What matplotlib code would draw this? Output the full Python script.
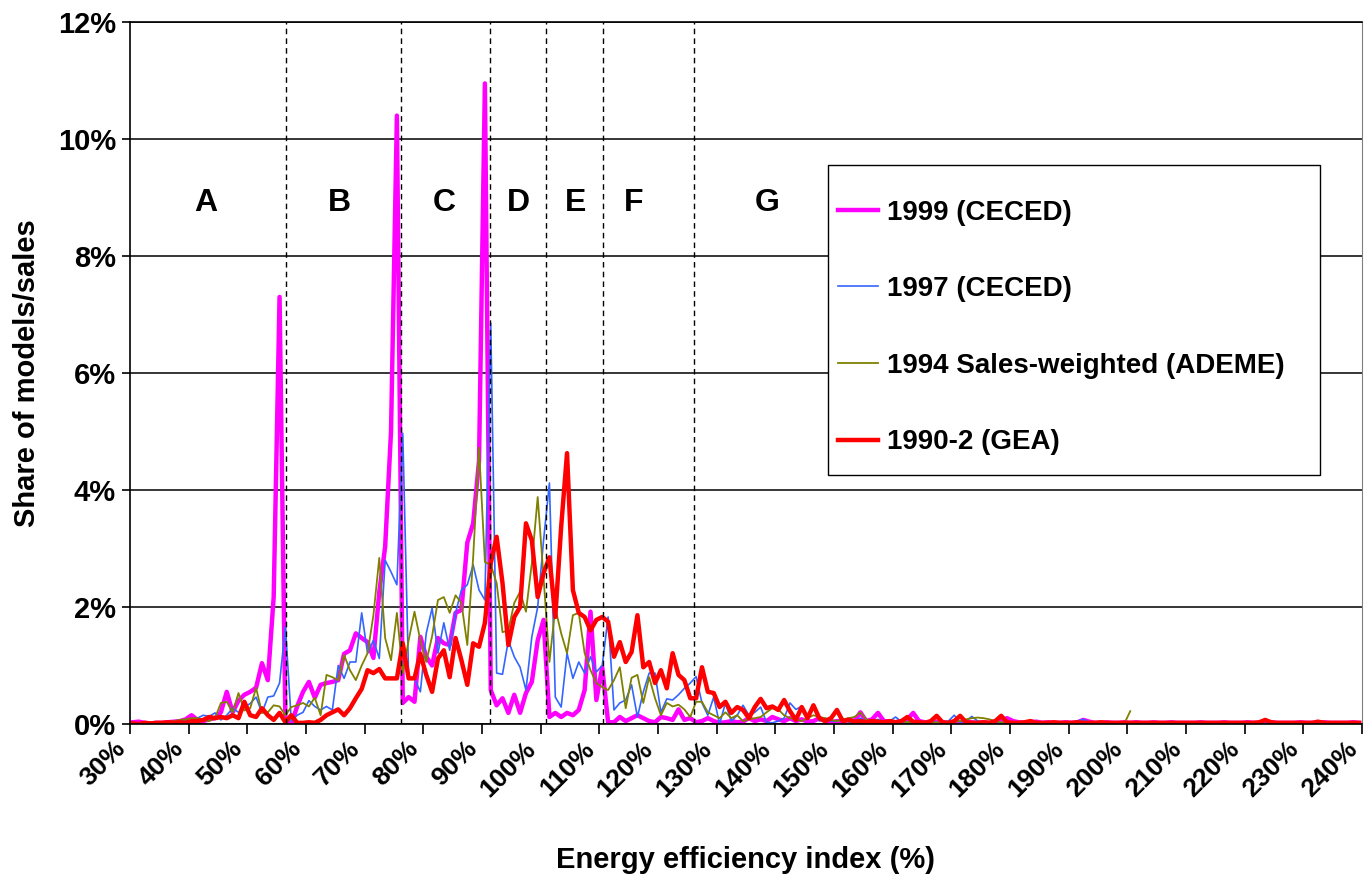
import matplotlib
matplotlib.use('Agg')
import matplotlib.pyplot as plt
import numpy as np
from matplotlib.patches import Rectangle

plt.rcParams['font.family'] = ['Liberation Sans', 'DejaVu Sans']
plt.rcParams['font.weight'] = 'bold'

# energy efficiency index categories (%), 30..239
eei = np.arange(30, 240)

s1999 = [
    0.03, 0.04, 0.02, 0.01, 0.02, 0.02, 0.03, 0.04, 0.05, 0.08,
    0.15, 0.07, 0.05, 0.08, 0.10, 0.20, 0.55, 0.20, 0.40, 0.50,
    0.55, 0.62, 1.04, 0.75, 2.17, 7.30, 0.05, 0.00, 0.30, 0.55,
    0.72, 0.45, 0.67, 0.70, 0.72, 0.75, 1.20, 1.26, 1.55, 1.47,
    1.40, 1.13, 2.26, 3.03, 5.00, 10.40, 0.36, 0.46, 0.38, 1.49,
    1.15, 1.00, 1.47, 1.38, 1.35, 1.90, 1.95, 3.10, 3.43, 4.50,
    10.95, 0.58, 0.32, 0.44, 0.19, 0.50, 0.19, 0.53, 0.72, 1.43,
    1.78, 0.12, 0.19, 0.12, 0.19, 0.15, 0.24, 0.58, 1.92, 0.41,
    0.97, 0.03, 0.03, 0.12, 0.05, 0.10, 0.15, 0.10, 0.05, 0.03,
    0.12, 0.10, 0.07, 0.25, 0.07, 0.10, 0.03, 0.05, 0.10, 0.05,
    0.02, 0.03, 0.05, 0.03, 0.04, 0.10, 0.05, 0.08, 0.05, 0.12,
    0.08, 0.05, 0.10, 0.05, 0.08, 0.04, 0.05, 0.10, 0.05, 0.03,
    0.05, 0.04, 0.08, 0.05, 0.20, 0.05, 0.08, 0.19, 0.05, 0.04,
    0.03, 0.05, 0.08, 0.19, 0.05, 0.03, 0.02, 0.04, 0.03, 0.02,
    0.03, 0.02, 0.04, 0.03, 0.02, 0.03, 0.02, 0.04, 0.06, 0.10,
    0.05, 0.03, 0.02, 0.03, 0.04, 0.02, 0.03, 0.02, 0.02, 0.03,
    0.02, 0.03, 0.07, 0.04, 0.02, 0.02, 0.03, 0.02, 0.02, 0.03,
    0.02, 0.03, 0.02, 0.02, 0.03, 0.02, 0.02, 0.03, 0.02, 0.02,
    0.02, 0.02, 0.03, 0.02, 0.02, 0.02, 0.03, 0.02, 0.02, 0.02,
    0.03, 0.02, 0.02, 0.02, 0.03, 0.02, 0.02, 0.02, 0.02, 0.03,
    0.02, 0.02, 0.02, 0.03, 0.02, 0.02, 0.02, 0.02, 0.03, 0.02,
]

s1997 = [
    0.02, 0.01, 0.00, 0.02, 0.02, 0.03, 0.02, 0.03, 0.05, 0.07,
    0.05, 0.10, 0.15, 0.13, 0.19, 0.07, 0.15, 0.27, 0.20, 0.29,
    0.35, 0.46, 0.19, 0.46, 0.48, 0.70, 1.66, 0.05, 0.15, 0.20,
    0.40, 0.30, 0.24, 0.30, 0.24, 1.00, 0.78, 1.06, 1.06, 1.90,
    1.21, 1.43, 1.12, 2.80, 2.60, 2.38, 4.97, 0.80, 0.78, 0.55,
    1.55, 1.98, 1.21, 1.73, 1.26, 1.90, 2.29, 2.38, 2.72, 2.29,
    2.12, 6.85, 0.87, 0.85, 1.43, 1.15, 0.97, 0.58, 1.49, 2.00,
    3.14, 4.12, 0.46, 0.29, 1.21, 0.78, 1.06, 0.87, 1.15, 0.89,
    1.00, 1.83, 0.24, 0.36, 0.41, 0.67, 0.12, 0.55, 0.87, 0.87,
    0.20, 0.43, 0.41, 0.50, 0.61, 0.70, 0.81, 0.36, 0.15, 0.46,
    0.00, 0.36, 0.05, 0.15, 0.32, 0.15, 0.20, 0.29, 0.03, 0.02,
    0.05, 0.10, 0.36, 0.25, 0.30, 0.10, 0.30, 0.05, 0.10, 0.05,
    0.05, 0.08, 0.03, 0.05, 0.10, 0.04, 0.05, 0.08, 0.03, 0.05,
    0.12, 0.04, 0.03, 0.05, 0.03, 0.02, 0.05, 0.03, 0.02, 0.05,
    0.15, 0.03, 0.05, 0.13, 0.05, 0.03, 0.02, 0.03, 0.02, 0.03,
    0.02, 0.03, 0.02, 0.02, 0.03, 0.02, 0.02, 0.03, 0.02, 0.02,
    0.03, 0.05, 0.08, 0.03, 0.02, 0.02, 0.02, 0.03, 0.02, 0.02,
    0.01, 0.02, 0.01, 0.02, 0.01, 0.02, 0.01, 0.01, 0.02, 0.01,
    0.04, 0.01, 0.02, 0.01, 0.01, 0.02, 0.01, 0.01, 0.01, 0.02,
    0.01, 0.01, 0.02, 0.01, 0.01, 0.01, 0.02, 0.01, 0.01, 0.01,
    0.01, 0.02, 0.01, 0.01, 0.01, 0.01, 0.02, 0.01, 0.01, 0.01,
]

# 1994 data stop at 200 %
s1994 = [
    0.00, 0.00, 0.01, 0.02, 0.03, 0.02, 0.03, 0.05, 0.07, 0.08,
    0.10, 0.10, 0.07, 0.05, 0.10, 0.36, 0.38, 0.20, 0.53, 0.23,
    0.27, 0.62, 0.19, 0.20, 0.32, 0.30, 0.15, 0.29, 0.32, 0.36,
    0.30, 0.45, 0.15, 0.84, 0.80, 0.75, 1.18, 0.92, 0.75, 1.00,
    1.21, 1.86, 2.84, 1.47, 1.09, 1.90, 0.87, 1.43, 1.92, 1.43,
    1.06, 1.50, 2.12, 2.17, 1.90, 2.20, 2.07, 1.35, 2.85, 4.72,
    2.77, 2.72, 2.41, 1.57, 1.60, 2.07, 2.26, 1.92, 2.75, 3.88,
    2.50, 1.06, 1.98, 1.55, 1.21, 1.86, 1.90, 1.21, 0.92, 0.70,
    0.63, 0.58, 0.75, 0.97, 0.27, 0.79, 0.84, 0.36, 0.80, 0.44,
    0.15, 0.36, 0.30, 0.33, 0.25, 0.12, 0.38, 0.38, 0.20, 0.15,
    0.10, 0.20, 0.10, 0.15, 0.05, 0.08, 0.10, 0.12, 0.20, 0.27,
    0.25, 0.15, 0.10, 0.08, 0.05, 0.10, 0.15, 0.12, 0.10, 0.07,
    0.05, 0.08, 0.10, 0.12, 0.20, 0.08, 0.05, 0.04, 0.05, 0.03,
    0.04, 0.05, 0.03, 0.04, 0.05, 0.03, 0.02, 0.03, 0.02, 0.03,
    0.04, 0.05, 0.08, 0.10, 0.11, 0.10, 0.08, 0.05, 0.03, 0.02,
    0.02, 0.03, 0.02, 0.02, 0.02, 0.03, 0.02, 0.02, 0.02, 0.03,
    0.02, 0.02, 0.03, 0.02, 0.02, 0.02, 0.01, 0.02, 0.02, 0.01,
    0.22,
] + [np.nan] * 39

s1990 = [
    0.01, 0.00, 0.02, 0.01, 0.02, 0.02, 0.03, 0.02, 0.03, 0.02,
    0.05, 0.05, 0.07, 0.12, 0.10, 0.12, 0.10, 0.15, 0.10, 0.38,
    0.15, 0.12, 0.27, 0.15, 0.07, 0.19, 0.03, 0.15, 0.02, 0.02,
    0.03, 0.02, 0.07, 0.15, 0.20, 0.25, 0.15, 0.27, 0.44, 0.60,
    0.92, 0.87, 0.94, 0.78, 0.78, 0.78, 1.38, 0.78, 0.78, 1.20,
    0.84, 0.55, 1.12, 1.26, 0.80, 1.47, 1.09, 0.67, 1.38, 1.32,
    1.73, 2.75, 3.20, 2.41, 1.35, 1.83, 2.00, 3.43, 3.14, 2.17,
    2.58, 2.85, 1.83, 3.37, 4.63, 2.29, 1.90, 1.83, 1.60, 1.78,
    1.83, 1.75, 1.15, 1.40, 1.06, 1.23, 1.86, 0.97, 1.06, 0.70,
    0.92, 0.61, 1.21, 0.84, 0.75, 0.44, 0.44, 0.97, 0.55, 0.53,
    0.29, 0.38, 0.19, 0.29, 0.24, 0.10, 0.29, 0.43, 0.27, 0.30,
    0.24, 0.41, 0.22, 0.07, 0.29, 0.10, 0.32, 0.10, 0.05, 0.10,
    0.24, 0.05, 0.07, 0.04, 0.05, 0.03, 0.05, 0.04, 0.03, 0.05,
    0.03, 0.05, 0.12, 0.04, 0.03, 0.02, 0.05, 0.14, 0.03, 0.02,
    0.05, 0.14, 0.03, 0.02, 0.02, 0.03, 0.02, 0.05, 0.14, 0.03,
    0.02, 0.02, 0.03, 0.05, 0.02, 0.02, 0.02, 0.03, 0.02, 0.02,
    0.02, 0.03, 0.02, 0.02, 0.02, 0.03, 0.02, 0.02, 0.02, 0.02,
    0.02, 0.02, 0.02, 0.02, 0.02, 0.02, 0.02, 0.02, 0.02, 0.02,
    0.02, 0.02, 0.02, 0.02, 0.02, 0.02, 0.02, 0.02, 0.02, 0.02,
    0.02, 0.02, 0.03, 0.07, 0.03, 0.02, 0.02, 0.02, 0.02, 0.02,
    0.02, 0.02, 0.04, 0.02, 0.02, 0.02, 0.02, 0.02, 0.02, 0.02,
]

labels = ['1999 (CECED)', '1997 (CECED)', '1994 Sales-weighted (ADEME)', '1990-2 (GEA)']
colors = ['#FF00FF', '#3366FF', '#808000', '#FF0000']
widths = [3.2, 1.2, 1.3, 3.2]

# class boundaries (dashed) and class letters
bounds = [56.6, 76.2, 91.4, 101.0, 110.7, 126.1]
classes = ['A', 'B', 'C', 'D', 'E', 'F', 'G']
class_x = [43.0, 65.7, 83.6, 96.2, 105.9, 115.8, 138.7]

fig = plt.figure(figsize=(13.65, 8.76), dpi=100)
ax = fig.add_axes([0.0952, 0.1735, 0.9026, 0.8014])

xs = eei + 0.5
for y, lab, c, lw in zip([s1999, s1997, s1994, s1990], labels, colors, widths):
    ax.plot(xs, y, color=c, lw=lw, label=lab, solid_joinstyle='round')

for b in bounds:
    ax.axvline(b, color='black', lw=1.0, ls=(0, (4, 3)), zorder=5)

for t, x in zip(classes, class_x):
    ax.text(x, 8.9, t, ha='center', va='center', fontsize=23, fontweight='bold')

ax.set_xlim(30, 240)
ax.set_ylim(0, 12)
ax.set_xticks(np.arange(30, 241, 10))
ax.set_xticklabels([f'{v}%' for v in range(30, 241, 10)], rotation=45,
                   ha='right', va='top', fontsize=19, fontweight='bold')
ax.set_yticks(np.arange(0, 13, 2))
ax.set_yticklabels([f'{v}%' for v in range(0, 13, 2)], fontsize=21, fontweight='bold')
ax.tick_params(axis='x', direction='out', length=7, width=1.2, pad=2)
ax.tick_params(axis='y', direction='out', length=6, width=1.2, pad=4)
ax.grid(axis='y', color='black', lw=1.1)
ax.set_axisbelow(True)
for s in ['left', 'bottom', 'top']:
    ax.spines[s].set_color('black')
    ax.spines[s].set_linewidth(1.2)
ax.spines['right'].set_color('#808080')

ax.set_xlabel('Energy efficiency index (%)', fontsize=21, fontweight='bold', labelpad=32)
ax.set_ylabel('Share of models/sales', fontsize=21, fontweight='bold', labelpad=12)

# legend box
ax.add_patch(Rectangle((0.5666, 0.354), 0.3994, 0.4416, transform=ax.transAxes,
                       facecolor='white', edgecolor='black', lw=1.0, zorder=6))
leg = ax.legend(loc='upper left', bbox_to_anchor=(0.5747, 0.747), frameon=False,
                fontsize=20, handlelength=1.45, handletextpad=0.3,
                labelspacing=1.82, borderpad=0, borderaxespad=0)
leg.set_zorder(7)
for t in leg.get_texts():
    t.set_fontweight('bold')

fig.savefig('out.png', dpi=100)
